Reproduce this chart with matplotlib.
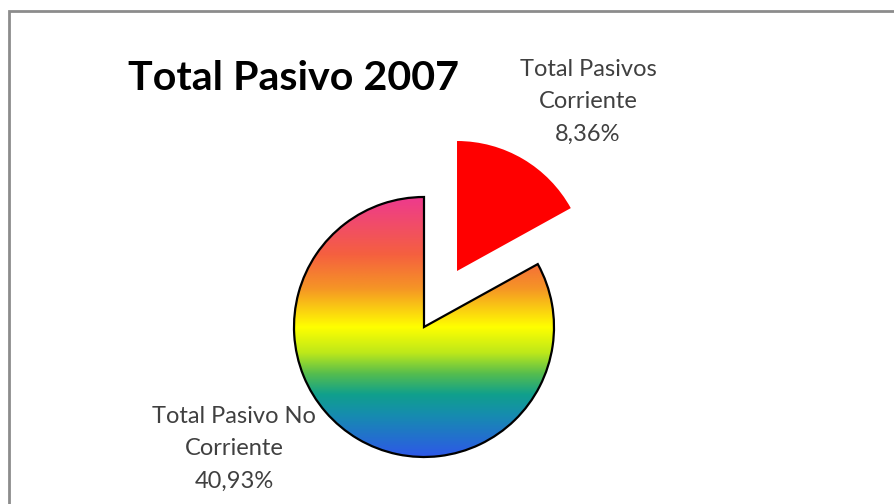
import numpy as np
import matplotlib
matplotlib.use("Agg")
import matplotlib.pyplot as plt
from matplotlib.colors import LinearSegmentedColormap
from matplotlib.patches import Rectangle

# Data
title = "Total Pasivo 2007"
categories = ["Total Pasivos\nCorriente", "Total Pasivo No\nCorriente"]
shares = [8.36, 40.93]

W, H = 895, 504
fig = plt.figure(figsize=(W / 100, H / 100), dpi=100)
ax = fig.add_axes([0, 0, 1, 1])

center = (424, H - 327)
radius = 130
# explode is given in data units here (axes are in pixel units)
wedges, _ = ax.pie(shares, center=center, radius=radius, startangle=90,
                   counterclock=False, explode=[0.5 * radius, 0.0],
                   colors=["#ff0000", "none"],
                   wedgeprops=dict(linewidth=0))

# Rainbow gradient for the large slice
rainbow = LinearSegmentedColormap.from_list("rainbow_fill", [
    (0.00, "#ee3a8e"),
    (0.22, "#f5603f"),
    (0.35, "#f59426"),
    (0.50, "#ffff00"),
    (0.60, "#bde81a"),
    (0.68, "#55bd4e"),
    (0.76, "#10a08c"),
    (0.84, "#168caf"),
    (1.00, "#2e58e8"),
])
grad = np.linspace(0, 1, 256).reshape(-1, 1)
big = wedges[1]
cx, cy = big.center
img = ax.imshow(grad, cmap=rainbow, aspect="auto",
                extent=(cx - radius, cx + radius, cy - radius, cy + radius),
                origin="upper", zorder=1)
img.set_clip_path(big)
big.set_edgecolor("#000000")
big.set_linewidth(1.6)
big.set_facecolor("none")
big.set_zorder(2)

ax.set_xlim(0, W)
ax.set_ylim(0, H)
ax.set_aspect("equal")
ax.axis("off")

# Chart frame
ax.add_patch(Rectangle((9.5, -20), W + 40, H - 11 + 20, fill=False,
                       edgecolor="#8c8c8c", linewidth=2.0, zorder=0))

ax.text(128, H - 90, title, fontsize=29.7, fontweight="bold", family="Lato",
        color="#000000", ha="left", va="baseline")

def fmt(v):
    return f"{v:.2f}".replace(".", ",") + "%"

# y = baseline of the last line of each label
label_pos = [(588, H - 141), (234, H - 488)]
for (x, y), name, v in zip(label_pos, categories, shares):
    ax.text(x, y, name + "\n" + fmt(v), fontsize=17, family="Lato",
            color="#404040", ha="center", va="baseline",
            linespacing=1.68)

fig.savefig("out.png", dpi=100, facecolor="white")
